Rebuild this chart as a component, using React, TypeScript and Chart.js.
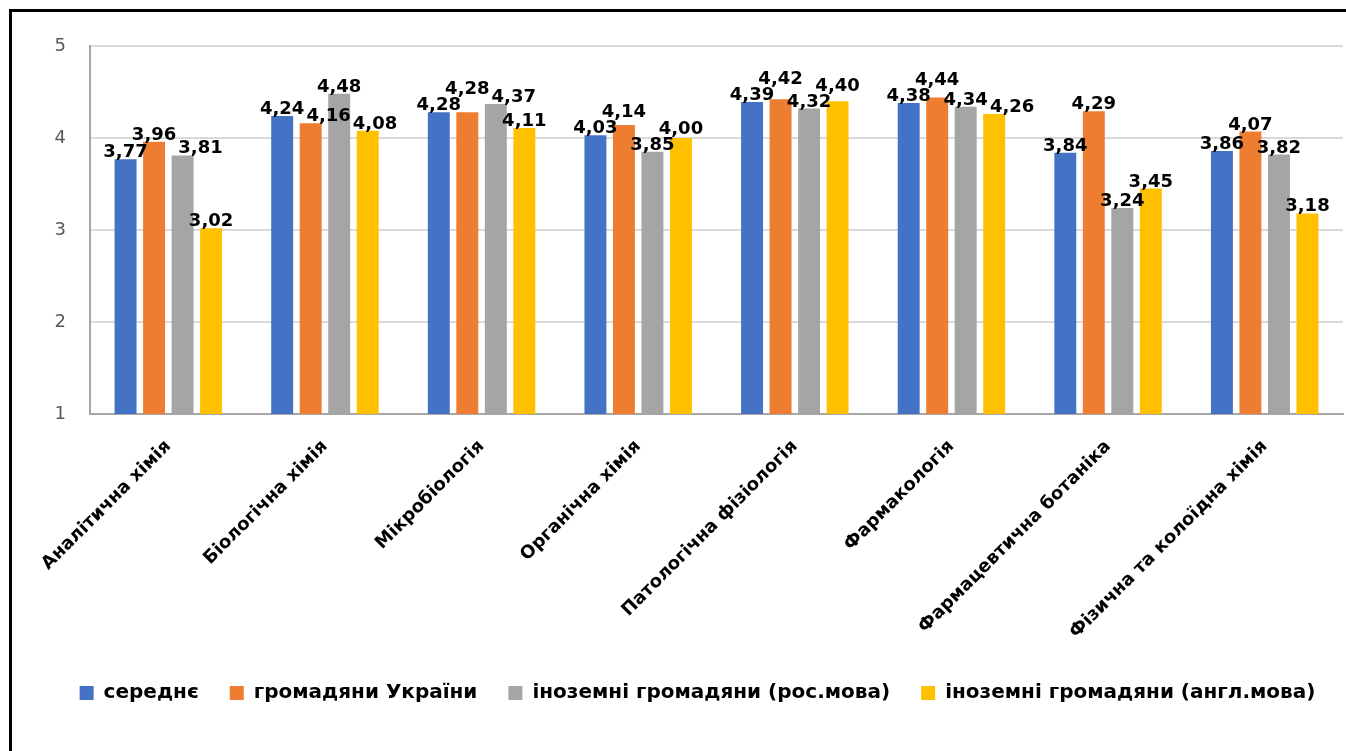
import React, { useEffect, useRef } from "react";
import { Chart, registerables } from "chart.js";

Chart.register(...registerables);

const categories = [
  "Аналітична хімія",
  "Біологічна хімія",
  "Мікробіологія",
  "Органічна хімія",
  "Патологічна фізіологія",
  "Фармакологія",
  "Фармацевтична ботаніка",
  "Фізична та колоїдна хімія",
];
const seriesNames = [
  "середнє",
  "громадяни України",
  "іноземні громадяни (рос.мова)",
  "іноземні громадяни (англ.мова)",
];
const average = [3.77, 4.24, 4.28, 4.03, 4.39, 4.38, 3.84, 3.86];
const ukrainians = [3.96, 4.16, 4.28, 4.14, 4.42, 4.44, 4.29, 4.07];
const foreignRu = [3.81, 4.48, 4.37, 3.85, 4.32, 4.34, 3.24, 3.82];
const foreignEn = [3.02, 4.08, 4.11, 4.0, 4.4, 4.26, 3.45, 3.18];
const yMin = 1;
const yMax = 5;
const yStep = 1;
const colors = ["#4472C4", "#ED7D31", "#A5A5A5", "#FFC000"];

const FONT = "'DejaVu Sans'";

const labelPlugin = {
  id: "valueLabels",
  afterLayout(chart: any) {
    const lg = chart.legend;
    if (lg) {
      lg.left += 12;
      lg.right += 12;
    }
  },
  afterDatasetsDraw(chart: any) {
    const ctx = chart.ctx;
    ctx.save();
    ctx.font = `bold 18px ${FONT}`;
    ctx.fillStyle = "#000";
    ctx.textAlign = "left";
    ctx.textBaseline = "alphabetic";
    const H = 13;
    const gap = 2;
    const placed: { l: number; r: number; t: number; b: number }[] = [];
    const n = chart.data.labels.length;
    for (let i = 0; i < n; i++) {
      chart.data.datasets.forEach((ds: any, di: number) => {
        const meta = chart.getDatasetMeta(di);
        const el = meta.data[i];
        const v = ds.data[i] as number;
        const text = v.toFixed(2).replace(".", ",");
        const w = ctx.measureText(text).width;
        let x = el.x - w / 2;
        let bottom = el.y - gap;
        const overlaps = (lx: number, b: number) =>
          placed.find(
            (p) => lx < p.r + 1 && lx + w > p.l - 1 && b - H < p.b + 2 && b > p.t - 2
          );
        let conflict = overlaps(x, bottom);
        if (conflict) {
          let rx = x;
          let c: any = conflict;
          let guard = 0;
          while (c && guard++ < 10) {
            rx = c.r + 2;
            c = overlaps(rx, bottom);
          }
          let ub = bottom;
          c = conflict;
          guard = 0;
          while (c && guard++ < 10) {
            ub = c.t - 3;
            c = overlaps(x, ub);
          }
          if (rx - x <= bottom - ub) x = rx;
          else bottom = ub;
        }
        placed.push({ l: x, r: x + w, t: bottom - H, b: bottom });
        ctx.fillText(text, x, bottom);
      });
    }
    ctx.restore();
  },
};

export default function App() {
  const canvasRef = useRef<HTMLCanvasElement | null>(null);

  useEffect(() => {
    if (!canvasRef.current) return;
    const seriesValues = [average, ukrainians, foreignRu, foreignEn];
    const chart = new Chart(canvasRef.current, {
      type: "bar",
      data: {
        labels: categories,
        datasets: seriesNames.map((name, i) => ({
          label: name,
          data: seriesValues[i],
          backgroundColor: colors[i],
          borderWidth: 0,
          categoryPercentage: 0.728,
          barPercentage: 0.77,
        })),
      },
      options: {
        responsive: false,
        animation: false,
        devicePixelRatio: 1,
        layout: { padding: { top: 46, left: 28, right: 3, bottom: 38 } },
        plugins: {
          tooltip: { enabled: false },
          legend: {
            position: "bottom",
            labels: {
              font: { family: FONT, size: 20, weight: "bold" },
              color: "#000",
              boxWidth: 14,
              boxHeight: 14,
              padding: 31,
            },
          },
        },
        scales: {
          x: {
            grid: { display: false, drawTicks: false },
            border: { display: true, color: "#A6A6A6", width: 2 },
            ticks: {
              autoSkip: false,
              minRotation: 45,
              maxRotation: 45,
              padding: 22,
              color: "#000",
              font: { family: FONT, size: 18, weight: "bold" },
            },
            afterFit(scale: any) {
              scale.height = 238;
            },
          },
          y: {
            min: yMin,
            max: yMax,
            grid: { color: "#D9D9D9", lineWidth: 2, drawTicks: false },
            border: { display: true, color: "#A6A6A6", width: 2 },
            ticks: {
              stepSize: yStep,
              padding: 24,
              color: "#595959",
              font: { family: FONT, size: 18 },
            },
            afterFit(scale: any) {
              scale.width = 62;
            },
          },
        },
      },
      plugins: [labelPlugin],
    });
    return () => chart.destroy();
  }, []);

  return (
    <div
      style={{
        position: "fixed",
        left: 0,
        top: 0,
        width: 1346,
        height: 751,
        overflow: "hidden",
        background: "#fff",
      }}
    >
      <canvas
        ref={canvasRef}
        width={1346}
        height={751}
        style={{ position: "absolute", left: 0, top: 0, display: "block" }}
      />
      <div
        style={{
          position: "absolute",
          left: 9,
          top: 9,
          width: 2000,
          height: 2000,
          border: "3px solid #000",
        }}
      />
    </div>
  );
}
